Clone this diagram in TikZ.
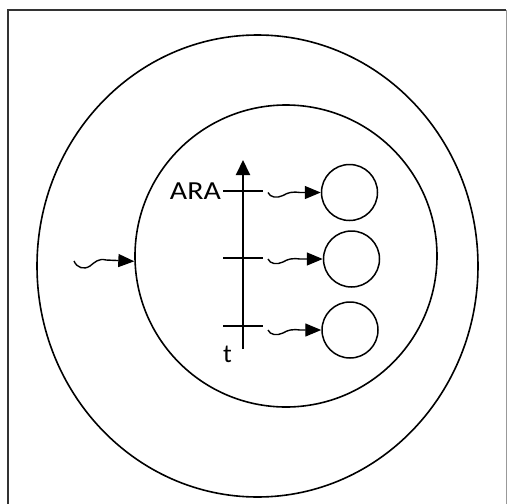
\documentclass[tikz,border=0pt]{standalone}
\usepackage{fontspec}
\setmainfont{Carlito}
\usetikzlibrary{arrows.meta,shapes.geometric}
\begin{document}
\begin{tikzpicture}[x=1pt,y=-1pt,
  ring/.style={draw,ellipse,inner sep=0pt,line width=1.6pt},
  ball/.style={draw,circle,inner sep=0pt,minimum size=56pt,line width=1.5pt},
  axisline/.style={line width=2pt,-{Triangle[length=15pt,width=14pt]}},
  tickline/.style={line width=1.8pt},
  wave/.style={line width=1.4pt,-{Triangle[length=16pt,width=13pt]}},
  lbl/.style={inner sep=0pt,font=\fontsize{26}{28}\selectfont}]
\useasboundingbox (0,0) rectangle (507,504);
% frame
\draw[line width=2pt,black!80] (8,504) -- (8,10) -- (506,10);
\draw[line width=1pt,black!40] (506,10) -- (506,504);
% rings
\node[ring,minimum width=441pt,minimum height=462pt] (outer) at (257.5,266) {};
\node[ring,minimum width=302pt,minimum height=302pt] (inner) at (286,256) {};
% incoming wave
\coordinate (w0) at (74,261);
\draw[wave] (w0) .. controls (77,268) and (84,270) .. (90,266)
  .. controls (95,262) and (99,258) .. (106,260) -- (inner.182);
% time axis
\coordinate (tb) at (243,349);
\coordinate (tt) at (243,160);
\draw[axisline] (tb) -- (tt);
\foreach \y/\n in {191/1,258/2,326/3}{
  \coordinate (ta\n) at (223,\y);
  \coordinate (tz\n) at (263,\y);
  \draw[tickline] (ta\n) -- (tz\n);
}
\node[lbl,anchor=east] (ara) at (221,191) {\scalebox{1.15}[1]{ARA}};
\node[lbl,anchor=center] (t) at (227.5,354) {t};
% balls with waves
\node[ball] (c1) at (349.5,192.5) {};
\node[ball] (c2) at (351.5,259) {};
\node[ball] (c3) at (350,330) {};
\foreach \y/\n in {192.5/1,259/2,330/3}{
  \coordinate (w\n) at (268,\y);
  \draw[wave] (w\n) .. controls (270,\y+5) and (277,\y+6) .. (283,\y+3)
    .. controls (288,\y) and (292,\y-1) .. (300,\y) -- (c\n.west);
}
\end{tikzpicture}
\end{document}
